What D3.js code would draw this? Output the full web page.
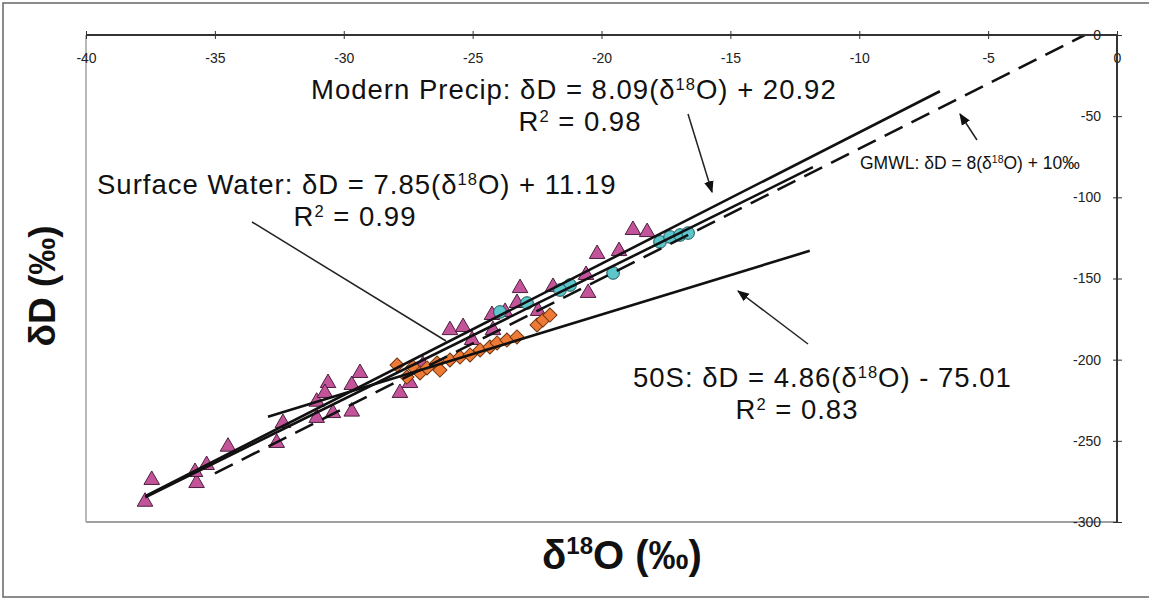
<!DOCTYPE html>
<html><head><meta charset="utf-8">
<script src="https://cdn.jsdelivr.net/npm/d3@7"></script>
<style>
html,body{margin:0;padding:0;background:#fff;}
svg{display:block;font-family:"Liberation Sans",Arial,sans-serif;}
</style></head>
<body>
<svg id="c" width="1149" height="603"></svg>
<script>
// ---- data ----
const xTicks = [-40,-35,-30,-25,-20,-15,-10,-5,0];
const yTicks = [0,-50,-100,-150,-200,-250,-300];

// Surface water (triangles)
const triX = [-37.71,-37.45,-35.71,-35.32,-35.77,-34.49,-32.60,-32.36,-31.05,-30.61,-30.73,-29.37,-29.69,-29.69,-30.42,-31.05,-27.82,-27.43,
  -18.78,-18.23,-20.17,-19.32,-20.60,-20.52,-21.88,-23.16,-23.28,-22.46,-24.25,-23.74,-25.88,-25.37,-25.02,-24.21,-26.93];
const triY = [-287.5,-274.1,-276.0,-264.9,-269.2,-253.6,-251.3,-239.0,-225.9,-214.4,-220.5,-208.2,-215.6,-232.0,-232.9,-235.9,-220.5,-214.4,
  -120.1,-121.4,-134.9,-133.1,-147.8,-158.9,-155.2,-155.9,-165.1,-170.0,-172.5,-170.6,-181.8,-179.9,-187.9,-181.8,-203.3];

// Modern precipitation (circles)
const cirX = [-17.73,-17.34,-16.95,-16.64,-19.55,-21.22,-21.61,-22.89,-23.94];
const cirY = [-127.5,-124.4,-123.2,-122.0,-146.6,-154.0,-157.1,-165.1,-170.6];

// 50S (diamonds)
const diaX = [-27.93,-27.55,-27.31,-27.04,-26.77,-26.38,-26.27,-25.88,-25.49,-25.10,-24.71,-24.33,-24.05,-23.67,-23.28,-22.50,-22.27,-22.00];
const diaY = [-203.3,-210.7,-204.5,-208.2,-205.1,-202.1,-206.4,-200.2,-198.4,-197.1,-194.0,-192.2,-189.7,-187.9,-186.0,-178.6,-175.6,-172.5];

// regression lines: slope, intercept, x-range
const lineNames = ["Modern Precip","Surface Water","50S","GMWL"];
const lineSlope = [8.09, 7.85, 4.86, 8];
const lineIntercept = [20.92, 11.19, -75.01, 10];
const lineFrom = [-37.7, -37.7, -32.94, -35.0];
const lineTo = [-6.87, -11.8, -11.92, -1.25];
const lineDashed = [false,false,false,true];

// ---- drawing ----
const svg = d3.select("#c");
const L=86,R=1117,T=35,B=522;
const x = d3.scaleLinear().domain([-40,0]).range([L,R]);
const y = d3.scaleLinear().domain([-300,0]).range([B,T]);

// outer frame
svg.append("rect").attr("x",3).attr("y",3).attr("width",1160).attr("height",594)
  .attr("fill","none").attr("stroke","#666").attr("stroke-width",1.5);

// plot area border (left & bottom light)
svg.append("line").attr("x1",L).attr("x2",L).attr("y1",T).attr("y2",B).attr("stroke","#a0a0a0").attr("stroke-width",1.5);
svg.append("line").attr("x1",L).attr("x2",R).attr("y1",B).attr("y2",B).attr("stroke","#a0a0a0").attr("stroke-width",2);

// markers
const gm = svg.append("g");
const tri = d3.symbol().type(d3.symbolTriangle).size(105)();
const cir = d3.symbol().type(d3.symbolCircle).size(125)();
const sq = d3.symbol().type(d3.symbolSquare).size(100)();
triX.forEach((v,i)=>gm.append("path").attr("d",tri)
  .attr("transform",`translate(${x(v)},${y(triY[i])})`)
  .attr("fill","#c4549a").attr("stroke","#4a1f3e").attr("stroke-width",1));
diaX.forEach((v,i)=>gm.append("path").attr("d",sq)
  .attr("transform",`translate(${x(v)},${y(diaY[i])}) rotate(45)`)
  .attr("fill","#ee7a35").attr("stroke","#6e3510").attr("stroke-width",1));
cirX.forEach((v,i)=>gm.append("path").attr("d",cir)
  .attr("transform",`translate(${x(v)},${y(cirY[i])})`)
  .attr("fill","#5cc6cc").attr("stroke","#1c5455").attr("stroke-width",1));

// lines
lineNames.forEach((n,i)=>{
  const f = t=>lineSlope[i]*t+lineIntercept[i];
  svg.append("line")
    .attr("x1",x(lineFrom[i])).attr("y1",y(f(lineFrom[i])))
    .attr("x2",x(lineTo[i])).attr("y2",y(f(lineTo[i])))
    .attr("stroke","#111").attr("stroke-width",2.6)
    .attr("stroke-dasharray",lineDashed[i]?"20,10":null);
});

// axes
const fmt = d=>String(d);
const ax = svg.append("g").attr("transform",`translate(0,${T})`)
  .call(d3.axisBottom(x).tickValues(xTicks).tickSize(4).tickPadding(14).tickFormat(fmt));
ax.select(".domain").attr("stroke","#333").attr("stroke-width",2).attr("d",`M${L},0H${R}`);
ax.selectAll(".tick line").attr("y1",-4).attr("y2",4).attr("stroke","#333");
ax.selectAll(".tick text").attr("font-size",14).attr("fill","#222").attr("font-family","Liberation Sans, Arial");

const ay = svg.append("g").attr("transform",`translate(${R},0)`)
  .call(d3.axisLeft(y).tickValues(yTicks).tickSize(4).tickPadding(12).tickFormat(fmt));
ay.select(".domain").attr("stroke","#333").attr("stroke-width",2).attr("d",`M0,${T}V${B}`);
ay.selectAll(".tick line").attr("x1",-4).attr("x2",5).attr("stroke","#333");
ay.selectAll(".tick text").attr("font-size",14).attr("fill","#222").attr("font-family","Liberation Sans, Arial");

// axis titles
const yt = svg.append("text").attr("transform","translate(55,286) rotate(-90)")
  .attr("text-anchor","middle").attr("font-size",37).attr("font-weight","bold").attr("fill","#111");
yt.append("tspan").text("δD (‰)");
const xt = svg.append("text").attr("x",622).attr("y",569)
  .attr("text-anchor","middle").attr("font-size",40).attr("font-weight","bold").attr("fill","#111");
xt.append("tspan").text("δ");
xt.append("tspan").attr("font-size",24).attr("dy",-15).text("18");
xt.append("tspan").attr("dy",15).text("O (‰)");

// annotation helper
function eq(xp,yp,size,ls,pre,post,anchor){
  const t = svg.append("text").attr("x",xp).attr("y",yp).attr("font-size",size)
    .attr("letter-spacing",ls).attr("fill","#111").attr("text-anchor",anchor||"start");
  t.append("tspan").text(pre);
  t.append("tspan").attr("font-size",size*0.6).attr("dy",-size*0.33).text("18");
  t.append("tspan").attr("dy",size*0.33).text(post);
}
function r2(xp,yp,size,ls,val){
  const t = svg.append("text").attr("x",xp).attr("y",yp).attr("font-size",size)
    .attr("letter-spacing",ls).attr("fill","#111").attr("text-anchor","middle");
  t.append("tspan").text("R");
  t.append("tspan").attr("font-size",size*0.6).attr("dy",-size*0.33).text("2");
  t.append("tspan").attr("dy",size*0.33).text(" = "+val);
}
const FS = 27.5, LS = 1.0;
eq(311,99,FS,LS,"Modern Precip: δD = 8.09(δ","O) + 20.92");
r2(580,131,FS,LS,"0.98");
eq(97,194,FS,LS,"Surface Water: δD = 7.85(δ","O) + 11.19");
r2(355,226,FS,LS,"0.99");
eq(633,387,FS,LS,"50S: δD = 4.86(δ","O) - 75.01");
r2(797,419,FS,LS,"0.83");
eq(860,169,17.5,0,"GMWL: δD = 8(δ","O) + 10‰");

// arrows
const defs = svg.append("defs");
defs.append("marker").attr("id","ah").attr("viewBox","0 0 10 10").attr("refX",9).attr("refY",5)
  .attr("markerWidth",8).attr("markerHeight",8).attr("orient","auto")
  .append("path").attr("d","M0,1 L10,5 L0,9 z").attr("fill","#111");
function arrow(x1,y1,x2,y2,head){
  svg.append("line").attr("x1",x1).attr("y1",y1).attr("x2",x2).attr("y2",y2)
    .attr("stroke","#222").attr("stroke-width",1.5)
    .attr("marker-end",head?"url(#ah)":null);
}
arrow(688,114,712,192,true);
arrow(977,140,960,114,true);
arrow(808,344,738,291,true);
arrow(252,222,446,341,false);
</script>
</body></html>
